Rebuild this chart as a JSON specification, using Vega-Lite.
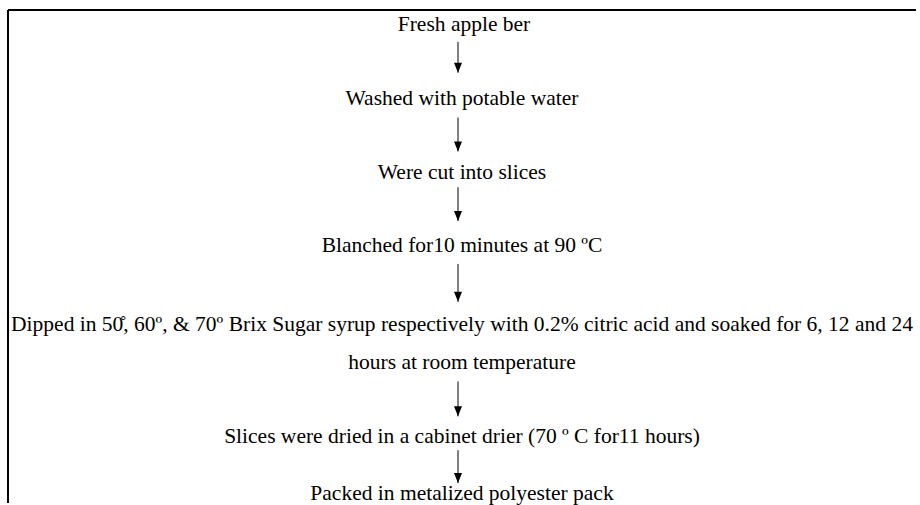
{
  "$schema": "https://vega.github.io/schema/vega-lite/v6.json",
  "width": 920,
  "height": 505,
  "padding": 0,
  "autosize": {"type": "fit", "contains": "padding"},
  "background": "white",
  "config": {"view": {"stroke": null}},
  "datasets": {
    "steps": [
      {"label": "Fresh apple ber", "x": 464, "y": 31},
      {"label": "Washed with potable water", "x": 462, "y": 105},
      {"label": "Were cut into slices", "x": 462, "y": 180},
      {"label": "Blanched for10 minutes at 90 ºC", "x": 462, "y": 253},
      {"label": "Dipped in 50̊, 60º, & 70º Brix Sugar syrup respectively with 0.2% citric acid and soaked for 6, 12 and 24", "x": 462, "y": 332},
      {"label": "hours at room temperature", "x": 462, "y": 370},
      {"label": "Slices were dried in a cabinet drier (70 º C for11 hours)", "x": 462, "y": 445},
      {"label": "Packed in metalized polyester pack", "x": 462, "y": 502}
    ],
    "arrows": [
      {"x": 458, "top": 42, "tip": 73},
      {"x": 458, "top": 118, "tip": 152},
      {"x": 458, "top": 188, "tip": 222},
      {"x": 458, "top": 265, "tip": 303},
      {"x": 458, "top": 383, "tip": 418},
      {"x": 458, "top": 452, "tip": 485}
    ],
    "border": [
      {"x": 8, "y": 10, "x2": 916, "y2": 10},
      {"x": 8, "y": 10, "x2": 8, "y2": 505}
    ]
  },
  "layer": [
    {
      "data": {"name": "border"},
      "mark": {"type": "rule", "color": "black", "strokeWidth": 2},
      "encoding": {
        "x": {"field": "x", "type": "quantitative", "scale": {"domain": [0, 920], "nice": false, "zero": false}, "axis": null},
        "y": {"field": "y", "type": "quantitative", "scale": {"domain": [0, 505], "nice": false, "zero": false, "reverse": true}, "axis": null},
        "x2": {"field": "x2"},
        "y2": {"field": "y2"}
      }
    },
    {
      "data": {"name": "arrows"},
      "mark": {"type": "rule", "color": "black", "strokeWidth": 1},
      "encoding": {
        "x": {"field": "x", "type": "quantitative"},
        "y": {"field": "top", "type": "quantitative"},
        "y2": {"field": "tip"}
      }
    },
    {
      "data": {"name": "arrows"},
      "mark": {"type": "point", "filled": true, "color": "black", "opacity": 1, "shape": "M-0.8,-1L0.8,-1L0,1Z", "size": 100, "yOffset": -5},
      "encoding": {
        "x": {"field": "x", "type": "quantitative"},
        "y": {"field": "tip", "type": "quantitative"}
      }
    },
    {
      "data": {"name": "steps"},
      "mark": {"type": "text", "font": "Liberation Serif", "fontSize": 21.5, "color": "black", "align": "center", "baseline": "alphabetic"},
      "encoding": {
        "x": {"field": "x", "type": "quantitative"},
        "y": {"field": "y", "type": "quantitative"},
        "text": {"field": "label"}
      }
    }
  ]
}
